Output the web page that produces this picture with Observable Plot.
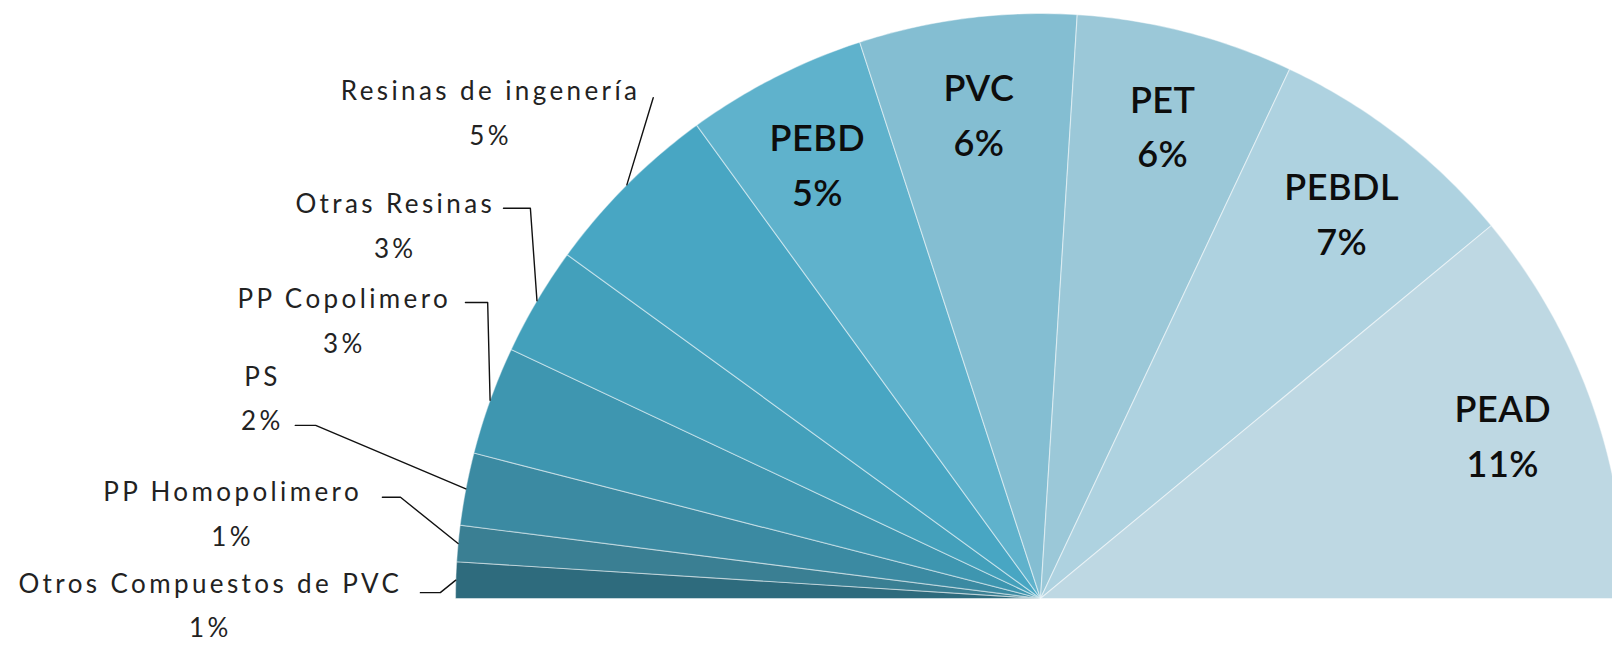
<!DOCTYPE html>
<html>
<head>
<meta charset="utf-8">
<script src="https://cdn.jsdelivr.net/npm/d3@7"></script>
<script src="https://cdn.jsdelivr.net/npm/@observablehq/plot@0.6"></script>
<style>
  html, body { margin: 0; padding: 0; background: #fff; }
  #chart svg { display: block; }
</style>
</head>
<body>
<div id="chart"></div>
<script>
// ---- data ----
const names = ["Otros Compuestos de PVC", "PP Homopolimero", "PS", "PP Copolimero", "Otras Resinas",
               "Resinas de ingenería", "PEBD", "PVC", "PET", "PEBDL", "PEAD"];
const shares = [1, 1, 2, 3, 3, 5, 5, 6, 6, 7, 11];            // percent of the whole pie
const colors = ["#2e6b7d", "#3a7f93", "#3b8aa2", "#3e96b0", "#43a0bb",
                "#48a6c3", "#5fb2cc", "#84bed2", "#9bc8d8", "#aed2e0", "#bed8e3"];
const insideNames = ["PEBD", "PVC", "PET", "PEBDL", "PEAD"];

// ---- layout of the outside labels (pie-radius units, pie centre = 0,0) ----
const outsideLayout = {
  "Resinas de ingenería":   {text: [-0.940, 0.838], leader: [[-0.662, 0.856]]},
  "Otras Resinas":          {text: [-1.103, 0.645], leader: [[-0.872, 0.667], [-0.918, 0.667]]},
  "PP Copolimero":          {text: [-1.190, 0.483], leader: [[-0.945, 0.506], [-0.983, 0.506]]},
  "PS":                     {text: [-1.330, 0.350], leader: [[-1.239, 0.296], [-1.274, 0.296]]},
  "PP Homopolimero":        {text: [-1.381, 0.153], leader: [[-1.094, 0.173], [-1.125, 0.173]]},
  "Otros Compuestos de PVC":{text: [-1.419, -0.004], leader: [[-1.026, 0.010], [-1.060, 0.010]]}
};

// ---- geometry derived from the data ----
const W = 1612, H = 645;
const cx = 1040, cy = 598, R = 585;        // pie centre and radius in pixels (frame)
const toAngle = p => p / 100 * 2 * Math.PI;

let cum = 0;
const slices = names.map((name, i) => {
  const a0 = Math.PI - toAngle(cum);
  cum += shares[i];
  const a1 = Math.PI - toAngle(cum);
  return {name, share: shares[i], a0, a1, mid: (a0 + a1) / 2};
});

const polyPts = [];
for (const s of slices) {
  polyPts.push({name: s.name, x: 0, y: 0});
  const n = Math.max(8, Math.ceil((s.a0 - s.a1) / 0.01));
  for (let k = 0; k <= n; k++) {
    const a = s.a0 + (s.a1 - s.a0) * k / n;
    polyPts.push({name: s.name, x: Math.cos(a), y: Math.sin(a)});
  }
  polyPts.push({name: s.name, x: 0, y: 0});
}

const insideText = slices.filter(s => insideNames.includes(s.name)).map(s => ({
  label: `${s.name}\n${s.share}%`,
  x: 0.84 * Math.cos(s.mid),
  y: 0.84 * Math.sin(s.mid)
}));

const outsideText = [];
const leaderPts = [];
for (const s of slices) {
  const L = outsideLayout[s.name];
  if (!L) continue;
  outsideText.push({label: `${s.name}\n${s.share}%`, x: L.text[0], y: L.text[1]});
  leaderPts.push({name: s.name, x: Math.cos(s.mid), y: Math.sin(s.mid)});
  for (const p of L.leader) leaderPts.push({name: s.name, x: p[0], y: p[1]});
}

const chart = Plot.plot({
  width: W,
  height: H,
  margin: 0,
  x: {domain: [-cx / R, (W - cx) / R], axis: null},
  y: {domain: [-(H - cy) / R, cy / R], axis: null},
  color: {domain: names, range: colors},
  style: {fontFamily: "Lato, 'Open Sans', sans-serif", background: "#fff"},
  marks: [
    Plot.line(polyPts, {x: "x", y: "y", z: "name", fill: "name",
      stroke: "#ffffff", strokeOpacity: 0.45, strokeWidth: 1.2, curve: "linear"}),
    Plot.line(leaderPts, {x: "x", y: "y", z: "name", stroke: "#111", strokeWidth: 1.4}),
    Plot.text(insideText, {x: "x", y: "y", text: "label", fontSize: 36, lineHeight: 1.52,
      lineAnchor: "middle", fill: "#0d0d0d", fontWeight: 600}),
    Plot.text(outsideText, {x: "x", y: "y", text: "label", fontSize: 26, lineHeight: 1.72,
      lineAnchor: "middle", fill: "#222"})
  ]
});
// letter spacing like the original's wide label text
const textGroups = d3.select(chart).selectAll('g[aria-label="text"]').nodes();
if (textGroups[0]) d3.select(textGroups[0]).style("letter-spacing", "0.5px");
if (textGroups[1]) d3.select(textGroups[1]).style("letter-spacing", "3.4px");
document.getElementById("chart").appendChild(chart);
</script>
</body>
</html>
